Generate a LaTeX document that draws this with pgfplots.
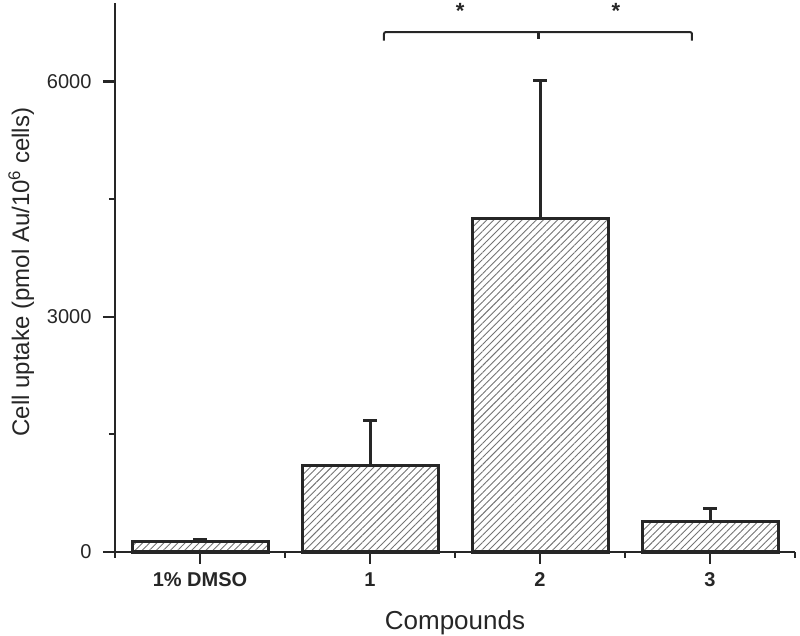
\documentclass[border=0pt]{standalone}
\usepackage{fontspec}
\setmainfont{Liberation Sans}
\usepackage{pgfplots}
\pgfplotsset{compat=1.18}
\usetikzlibrary{patterns.meta}
\begin{document}
\begin{tikzpicture}
\begin{axis}[
  at={(115bp,84bp)}, anchor=south west,
  width=680bp, height=549bp, scale only axis,
  xmin=-0.5, xmax=3.5, ymin=0, ymax=7000,
  axis lines*=left,
  axis line style={line width=2.2bp, color=black!85},
  clip=false,
  tick align=outside,
  major tick length=12bp, minor tick length=6bp,
  every tick/.style={line width=2.2bp, black!85},
  xtick={0,1,2,3},
  xticklabels={1\% DMSO, 1, 2, 3},
  minor xtick={-0.5,0.5,1.5,2.5,3.5},
  ytick={0,3000,6000},
  minor ytick={1500,4500},
  scaled y ticks=false,
  /pgf/number format/1000 sep={},
  /pgf/number format/assume math mode=true,
  yticklabel style={font=\fontsize{20bp}{24bp}\selectfont, text=black!85, xshift=-8bp},
  xticklabel style={font=\fontsize{20bp}{24bp}\selectfont\bfseries, text=black!85, yshift=-5bp},
  xlabel={Compounds},
  ylabel={Cell uptake (pmol Au/10\textsuperscript{6} cells)},
  xlabel style={at={(axis description cs:0.5,-0.142)}, anchor=base, font=\fontsize{26bp}{30bp}\selectfont, text=black!85},
  ylabel style={at={(axis description cs:-0.138,0.51)}, anchor=center, font=\fontsize{24bp}{28bp}\selectfont, text=black!85},
]
\addplot[ybar, bar width=0.8, draw=black!85, line width=3bp,
  pattern={Lines[angle=45,distance=5bp,line width=0.9bp]}, pattern color=black!55,
  error bars/.cd, y dir=plus, y explicit,
  error bar style={line width=3bp, black!85},
  error mark options={rotate=90, line width=3bp, mark size=7bp, black!85}]
  coordinates {(0,140) +- (0,25) (1,1100) +- (0,580) (2,4250) +- (0,1760) (3,390) +- (0,170)};
\draw[line width=2bp, black!85, rounded corners=2bp] (axis cs:1.082,6520) -- (axis cs:1.082,6630) -- (axis cs:2.894,6630) -- (axis cs:2.894,6520);
\draw[line width=3bp, black!85] (axis cs:1.99,6630) -- (axis cs:1.99,6540);
\node[anchor=base, font=\fontsize{22bp}{26bp}\selectfont\bfseries, text=black!85] at (axis cs:1.53,6800) {*};
\node[anchor=base, font=\fontsize{22bp}{26bp}\selectfont\bfseries, text=black!85] at (axis cs:2.447,6800) {*};
\end{axis}
\pgfresetboundingbox
\useasboundingbox (0,0) rectangle (800bp,636bp);
\end{tikzpicture}
\end{document}
